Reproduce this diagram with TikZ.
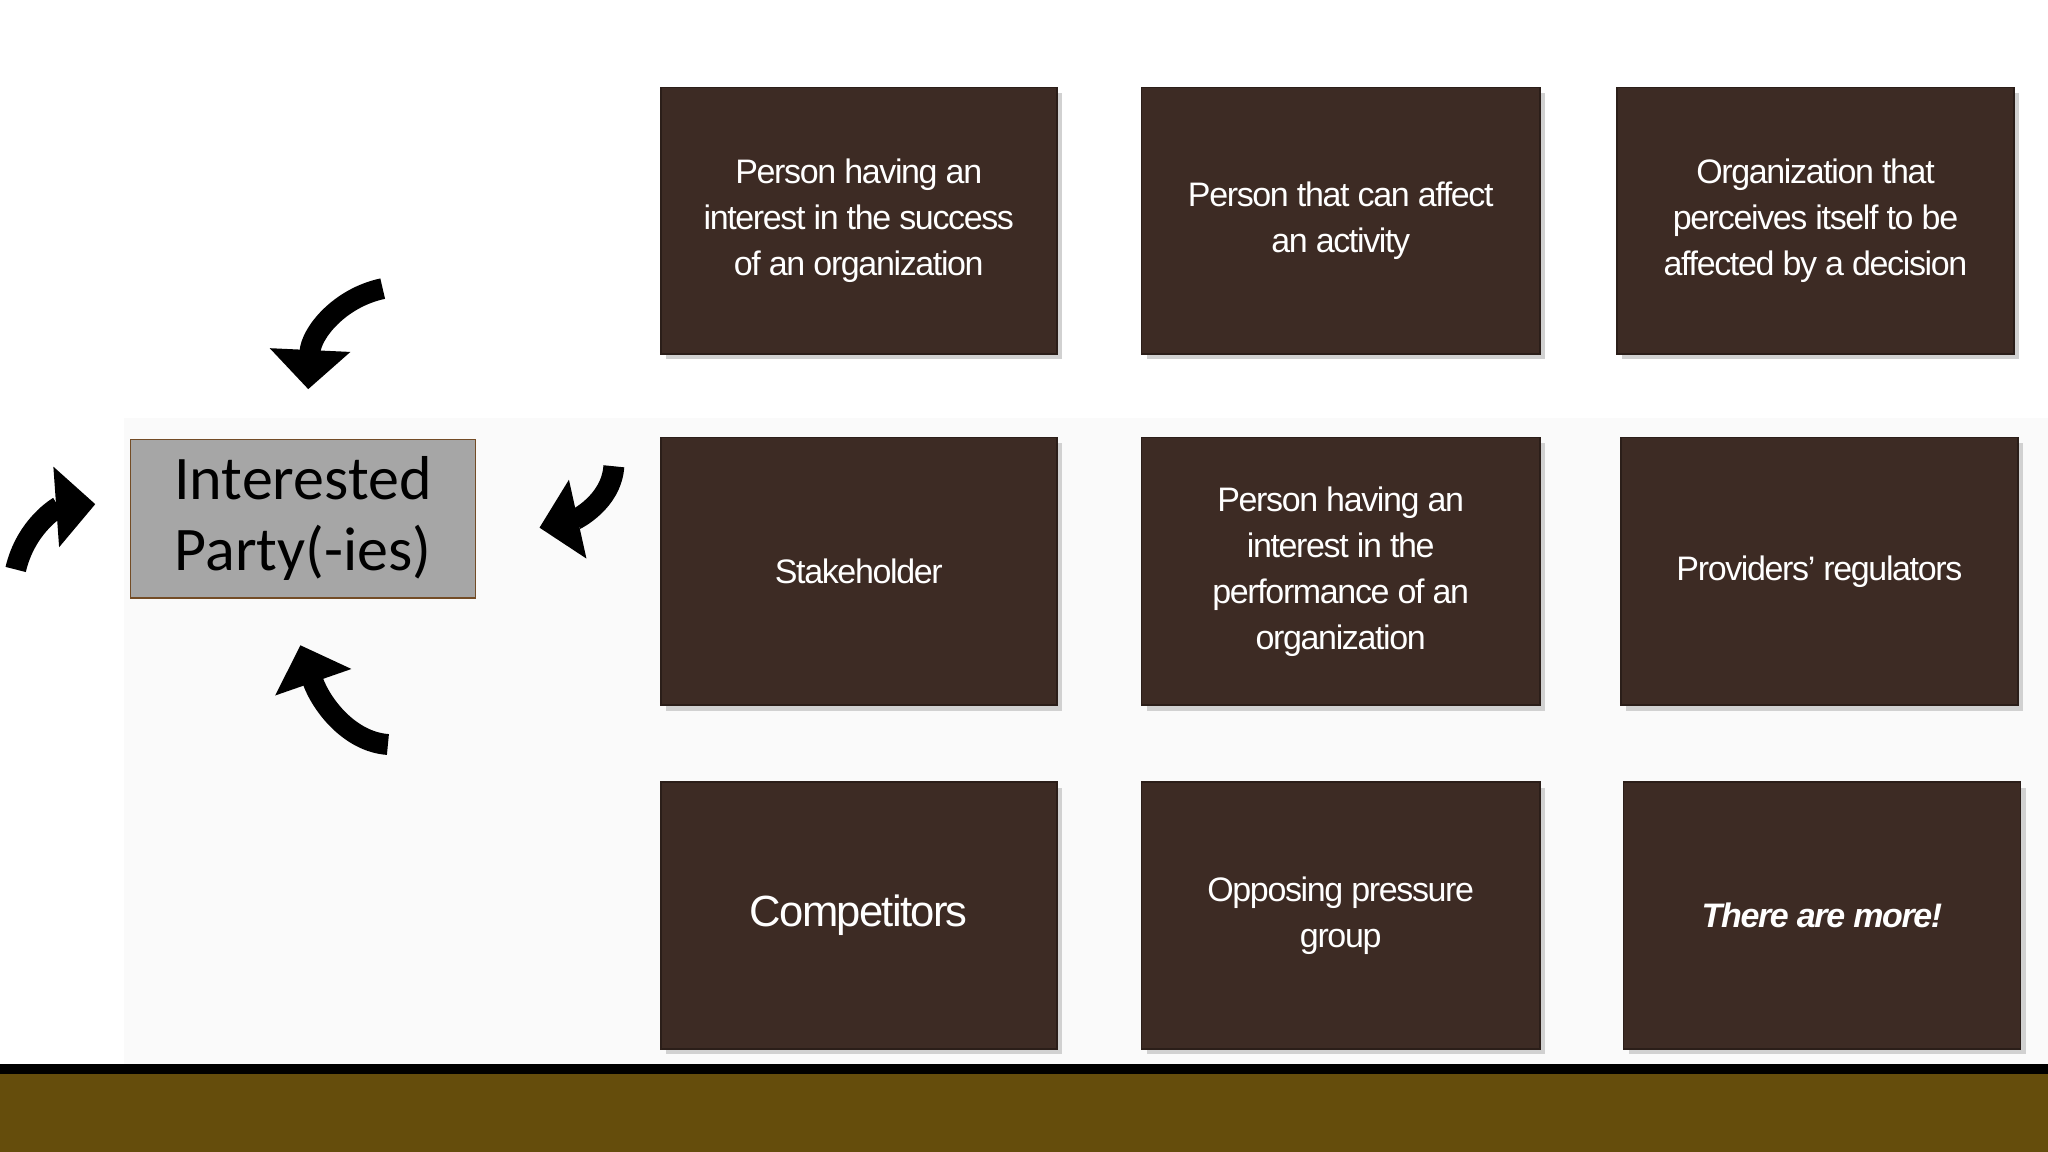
\documentclass[tikz,border=0pt]{standalone}
\usepackage{fontspec}
\setmainfont{Liberation Sans}
\newfontfamily\calfont{Carlito}
\usetikzlibrary{arrows.meta}
\definecolor{boxbrown}{HTML}{3D2B24}
\definecolor{olive}{HTML}{654D0C}
\definecolor{ipgray}{HTML}{A6A6A6}
\begin{document}
\begin{tikzpicture}[x=0.01cm,y=-0.01cm,
  card/.style={fill=boxbrown,draw=boxbrown!70!black,line width=0.4pt,text=white,align=center,
    font=\fontsize{7.4}{10}\selectfont\addfontfeature{LetterSpace=-4},inner sep=0pt},
  shade/.style={fill=black!18},
  curv/.style={line width=1.6mm,-{Triangle[length=3mm,width=6mm]}}]
\useasboundingbox (0,0) rectangle (1568,882);
\fill[white] (0,0) rectangle (1568,882);
\fill[black!2] (95,320) rectangle (1568,815);
% bottom band
\fill[black] (0,815) rectangle (1568,822);
\fill[olive] (0,822) rectangle (1568,882);
% cards
\foreach \n/\xa/\xb/\ya/\yb/\t in {
 a/506/809/67/271/{Person having an\\interest in the success\\of an organization},
 b/874/1179/67/271/{Person that can affect\\an activity},
 c/1238/1542/67/271/{Organization that\\perceives itself to be\\affected by a decision},
 d/506/809/335/540/{Stakeholder},
 e/874/1179/335/540/{Person having an\\interest in the\\performance of an\\organization},
 f/1241/1545/335/540/{Providers’ regulators},
 g/506/809/599/803/{\fontsize{9.5}{12}\selectfont Competitors},
 h/874/1179/599/803/{Opposing pressure\\group},
 i/1243/1547/599/803/{\bfseries\itshape There are more!}}{
  \fill[shade] (\xa+4,\ya+4) rectangle (\xb+4,\yb+4);
  \node[card,minimum width=(\xb-\xa)*0.01cm,minimum height=(\yb-\ya)*0.01cm] (\n) at ({(\xa+\xb)/2},{(\ya+\yb)/2}) {\t};
}
% interested party
\node[fill=ipgray,draw=brown!60!black,line width=0.4pt,minimum width=2.64cm,minimum height=1.21cm,
  font=\calfont\fontsize{13.5}{15.6}\selectfont,align=center,inner sep=0pt] (ip) at (232,397) {Interested\\Party(-ies)};
% arrows
\coordinate (t1) at (293,221); \coordinate (t2) at (236,298);
\coordinate (r1) at (470,357); \coordinate (r2) at (413,404);
\coordinate (b1) at (297,570); \coordinate (b2) at (230,494);
\coordinate (l1) at (12,436);  \coordinate (l2) at (73,386);
\draw[curv] (t1) .. controls (260,228) and (238,255) .. (t2);
\draw[curv] (r1) .. controls (468,385) and (440,398) .. (r2);
\draw[curv] (b1) .. controls (268,568) and (246,540) .. (b2);
\draw[curv] (l1) .. controls (20,402) and (45,388) .. (l2);
\end{tikzpicture}
\end{document}
